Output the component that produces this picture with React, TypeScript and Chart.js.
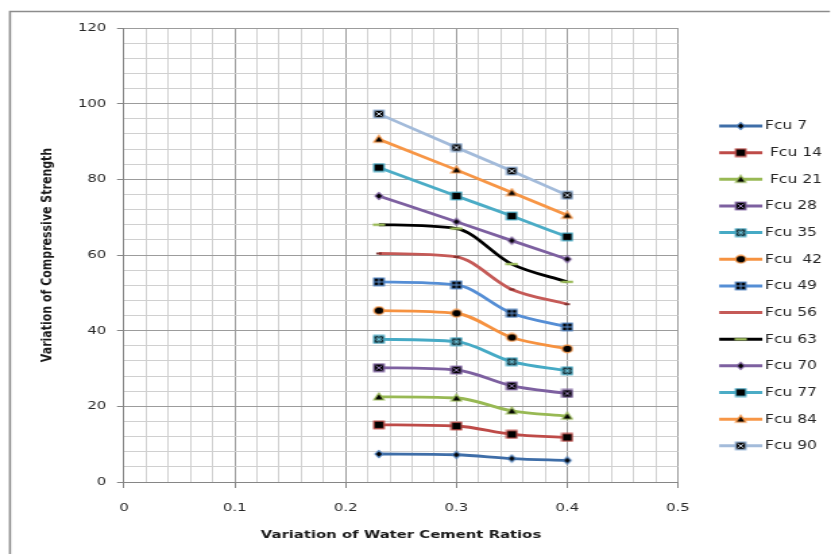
import React, { useEffect, useRef } from 'react';
import { Chart, registerables } from 'chart.js';

Chart.register(...registerables);

// ---------------- data ----------------
const wcRatios = [0.23, 0.3, 0.35, 0.4];

const fcu7 = [7.4, 7.2, 6.2, 5.7];
const fcu14 = [15.1, 14.8, 12.6, 11.8];
const fcu21 = [22.5, 22.2, 18.8, 17.4];
const fcu28 = [30.2, 29.6, 25.4, 23.4];
const fcu35 = [37.7, 37.1, 31.8, 29.4];
const fcu42 = [45.3, 44.6, 38.2, 35.2];
const fcu49 = [52.9, 52.1, 44.6, 41.0];
const fcu56 = [60.4, 59.5, 50.9, 47.0];
const fcu63 = [68.0, 67.0, 57.6, 52.9];
const fcu70 = [75.6, 68.8, 63.8, 58.9];
const fcu77 = [83.1, 75.6, 70.3, 64.8];
const fcu84 = [90.6, 82.5, 76.5, 70.5];
const fcu90 = [97.3, 88.4, 82.2, 75.8];

const seriesNames = [
  'Fcu 7', ' Fcu 14', ' Fcu 21', 'Fcu 28', 'Fcu 35', 'Fcu  42', 'Fcu 49',
  'Fcu 56', 'Fcu 63', 'Fcu 70', 'Fcu 77', 'Fcu 84', 'Fcu 90',
];
const seriesValues = [fcu7, fcu14, fcu21, fcu28, fcu35, fcu42, fcu49, fcu56, fcu63, fcu70, fcu77, fcu84, fcu90];

const xMajorTicks = [0, 0.1, 0.2, 0.3, 0.4, 0.5];
const yMajorTicks = [0, 20, 40, 60, 80, 100, 120];

const xTitle = 'Variation of Water Cement Ratios';
const yTitle = 'Variation of Compressive Strength';

// ---------------- styles ----------------
const lineColors = [
  '#3F6EA8', '#BE4B48', '#98B954', '#7D60A0', '#46AAC5', '#F69240', '#558ED5',
  '#C55A57', '#000000', '#7D60A0', '#4BACC6', '#F79646', '#A3BBDA',
];
const markerKinds = [
  'diamond', 'square', 'triangle', 'xbox', 'starbox', 'circle', 'plusbox',
  'tinydash', 'dash', 'diamond', 'square', 'triangle', 'xbox',
];
const markerEdges = [
  '#4F81BD', '#C0504D', '#9BBB59', '#8064A2', '#4BACC6', '#F79646', '#4F81BD',
  '#7A2C2A', '#9BBB59', '#8064A2', '#4BACC6', '#F79646', '#95B3D7',
];
const markerInner = [
  '#4F81BD', '#C0504D', '#9BBB59', '#9A80BC', '#6CC3DA', '#F79646', '#5F95D8',
  '#7A2C2A', '#9BBB59', '#8064A2', '#4BACC6', '#F79646', '#D3DEEC',
];

const W = 831;
const H = 554;
const STRETCH = 1.349; // the reference image is horizontally stretched
const IW = Math.round(W / STRETCH);

function makeMarker(kind: string, edge: string, inner: string): HTMLCanvasElement {
  const c = document.createElement('canvas');
  const size = 10;
  c.width = size;
  c.height = size;
  const g = c.getContext('2d') as CanvasRenderingContext2D;
  const m = size / 2;
  g.lineWidth = 1.2;
  g.strokeStyle = edge;
  g.fillStyle = '#000000';
  const box = () => {
    g.fillRect(1, 1, size - 2, size - 2);
    g.strokeRect(1.2, 1.2, size - 2.4, size - 2.4);
  };
  const xlines = () => {
    g.strokeStyle = inner;
    g.lineWidth = 1;
    g.beginPath();
    g.moveTo(2.6, 2.6); g.lineTo(size - 2.6, size - 2.6);
    g.moveTo(size - 2.6, 2.6); g.lineTo(2.6, size - 2.6);
    g.stroke();
  };
  const plus = () => {
    g.strokeStyle = inner;
    g.lineWidth = 1;
    g.beginPath();
    g.moveTo(m, 1.5); g.lineTo(m, size - 1.5);
    g.moveTo(1.5, m); g.lineTo(size - 1.5, m);
    g.stroke();
  };
  switch (kind) {
    case 'diamond':
      g.beginPath();
      g.moveTo(m, 1.5); g.lineTo(size - 2.2, m); g.lineTo(m, size - 1.5); g.lineTo(2.2, m);
      g.closePath(); g.fill(); g.stroke();
      break;
    case 'square':
      box();
      break;
    case 'triangle':
      g.beginPath();
      g.moveTo(m, 1.2); g.lineTo(size - 1.2, size - 2); g.lineTo(1.2, size - 2);
      g.closePath(); g.fill(); g.stroke();
      break;
    case 'circle':
      g.beginPath(); g.arc(m, m, 3.8, 0, Math.PI * 2); g.fill(); g.stroke();
      break;
    case 'xbox':
      box(); xlines();
      break;
    case 'starbox':
      box(); xlines(); plus();
      break;
    case 'plusbox':
      box(); plus();
      break;
    case 'dash':
      g.fillStyle = edge; g.fillRect(0.5, m - 1.2, size - 1, 2.4);
      break;
    case 'tinydash':
      g.fillStyle = edge; g.fillRect(3, m - 0.9, 4, 1.8);
      break;
  }
  return c;
}

const isMajorX = (v: number) => xMajorTicks.some((t) => Math.abs(t - v) < 1e-6);
const isMajorY = (v: number) => yMajorTicks.some((t) => Math.abs(t - v) < 1e-6);

export default function App() {
  const ref = useRef<HTMLCanvasElement>(null);

  useEffect(() => {
    document.body.style.margin = '0';
    const canvas = ref.current as HTMLCanvasElement;
    const markers = seriesNames.map((_, i) => makeMarker(markerKinds[i], markerEdges[i], markerInner[i]));

    const frameAndLegend = {
      id: 'frameAndLegend',
      afterDraw(chart: any) {
        const { ctx, chartArea } = chart;
        ctx.save();
        // outer frame (top and left edges visible)
        ctx.strokeStyle = '#8c8c8c';
        ctx.lineWidth = 1.6;
        ctx.beginPath();
        ctx.moveTo(7.4, chart.height);
        ctx.lineTo(7.4, 11.5);
        ctx.lineTo(chart.width - 0.8, 11.5);
        ctx.stroke();

        // legend
        const lx0 = chartArea.right + 30.5;
        const lx1 = lx0 + 32;
        const ly0 = chartArea.top + 98;
        const step = 26.65;
        chart.data.datasets.forEach((ds: any, i: number) => {
          const y = ly0 + i * step;
          ctx.strokeStyle = ds.borderColor;
          ctx.lineWidth = 3;
          ctx.beginPath();
          ctx.moveTo(lx0, y);
          ctx.lineTo(lx1, y);
          ctx.stroke();
          if (markerKinds[i] !== 'tinydash') {
            const mk = markers[i];
            ctx.drawImage(mk, (lx0 + lx1) / 2 - mk.width / 2, y - mk.height / 2);
          }
          ctx.fillStyle = '#262626';
          ctx.font = '11.5px "DejaVu Sans"';
          ctx.textAlign = 'left';
          ctx.textBaseline = 'middle';
          ctx.fillText(ds.label, lx1 + 2, y + 0.5);
        });
        ctx.restore();
      },
    };

    const chart = new Chart(canvas, {
      type: 'line',
      data: {
        datasets: seriesNames.map((name, i) => ({
          label: name,
          data: wcRatios.map((x, j) => ({ x, y: seriesValues[i][j] })),
          borderColor: lineColors[i],
          backgroundColor: lineColors[i],
          borderWidth: 2.8,
          cubicInterpolationMode: 'monotone',
          fill: false,
          pointStyle: markers[i],
          pointRadius: 5,
          pointHoverRadius: 5,
        })),
      },
      options: {
        responsive: false,
        animation: false,
        devicePixelRatio: 1,
        events: [],
        layout: { padding: { left: 0, top: 28, right: IW - 678 / STRETCH, bottom: 0 } },
        plugins: {
          legend: { display: false },
          tooltip: { enabled: false },
        },
        scales: {
          x: {
            type: 'linear',
            min: 0,
            max: 0.5,
            afterFit: (s: any) => { s.height = H - 482; },
            ticks: {
              stepSize: 0.02,
              autoSkip: false,
              maxRotation: 0,
              minRotation: 0,
              padding: 14,
              color: '#262626',
              font: { family: 'DejaVu Sans', size: 11 },
              callback: (v: any) => {
                const n = Number(v);
                return isMajorX(n) ? String(Math.round(n * 10) / 10) : '';
              },
            },
            grid: {
              color: (c: any) => (c.tick && isMajorX(c.tick.value) ? '#9c9c9c' : '#d0d0d0'),
              tickColor: (c: any) => (c.tick && isMajorX(c.tick.value) ? '#868686' : 'rgba(0,0,0,0)'),
              lineWidth: 1,
              tickLength: 6,
            },
            border: { color: '#868686', width: 1 },
            title: {
              display: true,
              text: xTitle,
              color: '#1a1a1a',
              font: { family: 'DejaVu Sans', size: 11, weight: 'bold' },
              padding: { top: 0, bottom: 12.4 },
            },
          },
          y: {
            min: 0,
            max: 120,
            afterFit: (s: any) => { s.width = 124 / STRETCH; },
            ticks: {
              stepSize: 4,
              autoSkip: false,
              padding: 8,
              color: '#262626',
              font: { family: 'DejaVu Sans', size: 11 },
              callback: (v: any) => (isMajorY(Number(v)) ? String(Math.round(Number(v))) : ''),
            },
            grid: {
              color: (c: any) => (c.tick && isMajorY(c.tick.value) ? '#9c9c9c' : '#d0d0d0'),
              tickColor: (c: any) => (c.tick && isMajorY(c.tick.value) ? '#868686' : 'rgba(0,0,0,0)'),
              lineWidth: 1,
              tickLength: 5.2,
            },
            border: { color: '#868686', width: 1 },
            title: {
              display: true,
              text: yTitle,
              color: '#1a1a1a',
              font: { family: 'DejaVu Sans', size: 11, weight: 'bold' },
              padding: { top: 28.2, bottom: 0 },
            },
          },
        },
      },
      plugins: [frameAndLegend],
    } as any);

    return () => chart.destroy();
  }, []);

  return (
    <canvas
      ref={ref}
      width={IW}
      height={H}
      style={{ display: 'block', width: W + 'px', height: H + 'px' }}
    />
  );
}
